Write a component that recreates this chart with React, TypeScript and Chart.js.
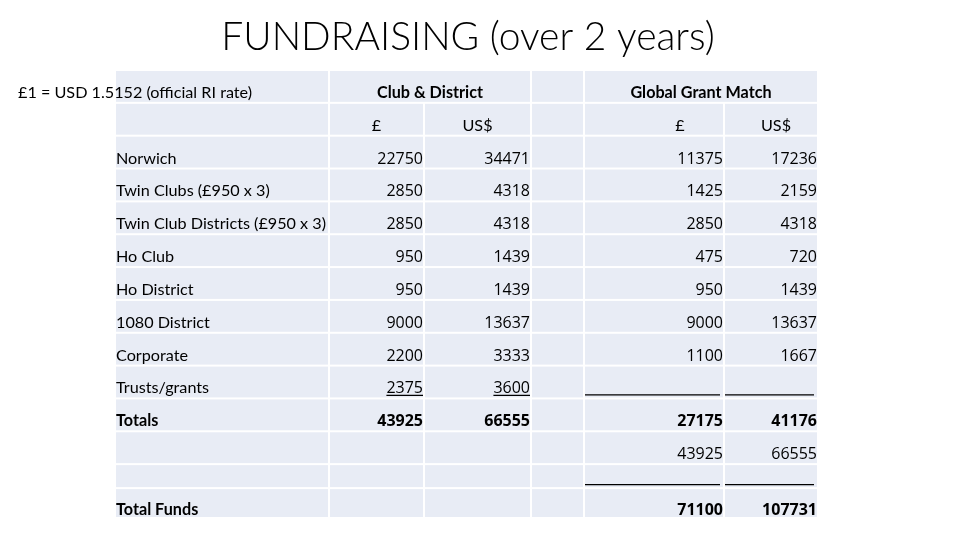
import { useEffect, useRef } from "react";
import { Chart, registerables } from "chart.js";

Chart.register(...registerables);

// ---------- data ----------
const titleText = "FUNDRAISING (over 2 years)";
const rateNote = "£1 = USD 1.5152 (official RI rate)";
const groupHeaders = ["Club & District", "Global Grant Match"];
const currencyHeaders = ["£", "US$", "£", "US$"];
const sourceLabels = [
  "Norwich",
  "Twin Clubs (£950 x 3)",
  "Twin Club Districts (£950 x 3)",
  "Ho Club",
  "Ho District",
  "1080 District",
  "Corporate",
  "Trusts/grants",
];
const clubGBP = [22750, 2850, 2850, 950, 950, 9000, 2200, 2375];
const clubUSD = [34471, 4318, 4318, 1439, 1439, 13637, 3333, 3600];
const grantGBP = [11375, 1425, 2850, 475, 950, 9000, 1100];
const grantUSD = [17236, 2159, 4318, 720, 1439, 13637, 1667];
const totalsLabel = "Totals";
const clubTotals = [43925, 66555];
const grantTotals = [27175, 41176];
const carriedClubTotals = [43925, 66555];
const totalFundsLabel = "Total Funds";
const totalFunds = [71100, 107731];

// ---------- layout (table geometry in scale units) ----------
const COL_EDGES = [116, 330, 425, 532, 585, 725, 819];
const ROW_SPANS = [1, 1, 1, 1, 1, 1, 1, 1, 1, 1, 1, 1, 0.73, 0.91];
const GAP = 2;
const CELL_FILL = "#E8ECF5";
const TEXT_FONT = "Lato, 'Open Sans', sans-serif";
const NUM_FONT = "'Open Sans', Lato, sans-serif";
const TEXT_SIZE = 16.2;
const NUM_SIZE = 16;
const FIRST_SOURCE_ROW = 2;
const TOTALS_ROW = 10;
const CARRIED_ROW = 11;
const RULE_ROWS = [9, 12];
const TOTAL_FUNDS_ROW = 13;
const SUBHEADER_SHIFT = [0, 0, 26, 5];

const rowTop = (r: number) => ROW_SPANS.slice(0, r).reduce((a, b) => a + b, 0);
const rowBottom = (r: number) => rowTop(r) + ROW_SPANS[r];
const cellRight = (c: number) => COL_EDGES[c + 1] - GAP;
const cellCenter = (c: number) => (COL_EDGES[c] + COL_EDGES[c + 1] - GAP) / 2;
const Y_MAX = rowTop(ROW_SPANS.length);

type TextPoint = { x: number; y: number; row: number; text: string; underline?: boolean };

function numberColumn(values: number[], col: number, firstRow: number, underlineRows: number[] = []): TextPoint[] {
  return values.map((v, i) => ({
    x: cellRight(col),
    y: rowBottom(firstRow + i),
    row: firstRow + i,
    text: String(v),
    underline: underlineRows.includes(firstRow + i),
  }));
}

function textDataset(label: string, data: TextPoint[], align: string, bold: boolean, numeric = false) {
  return {
    type: "scatter" as const,
    label,
    data,
    align,
    bold,
    numeric,
    pointRadius: 0,
    pointHoverRadius: 0,
    showLine: false,
  };
}

function rowCells(r: number): [number, number][] {
  if (r === 0) return [[0, 1], [1, 3], [3, 4], [4, 6]];
  return [[0, 1], [1, 2], [2, 3], [3, 4], [4, 5], [5, 6]];
}

const tablePlugin = {
  id: "fundTable",
  beforeDatasetsDraw(chart: any) {
    const { ctx } = chart;
    const xs = chart.scales.x;
    const ys = chart.scales.y;
    ctx.save();
    ctx.fillStyle = CELL_FILL;
    for (let r = 0; r < ROW_SPANS.length; r++) {
      const top = ys.getPixelForValue(rowTop(r));
      const bottom = ys.getPixelForValue(rowBottom(r)) - GAP;
      for (const [c0, c1] of rowCells(r)) {
        const left = xs.getPixelForValue(COL_EDGES[c0]);
        const right = xs.getPixelForValue(COL_EDGES[c1]) - GAP;
        ctx.fillRect(left, top, right - left, bottom - top);
      }
    }
    // rules under the grant columns
    ctx.strokeStyle = "#000";
    ctx.lineWidth = 1.3;
    for (const r of RULE_ROWS) {
      const yy = ys.getPixelForValue(rowBottom(r)) - GAP - 2.5;
      for (const c of [4, 5]) {
        ctx.beginPath();
        ctx.moveTo(xs.getPixelForValue(COL_EDGES[c]), yy);
        ctx.lineTo(xs.getPixelForValue(cellRight(c)) - 3, yy);
        ctx.stroke();
      }
    }
    ctx.restore();
  },
  afterDatasetsDraw(chart: any) {
    const { ctx } = chart;
    ctx.save();
    ctx.fillStyle = "#000";
    ctx.strokeStyle = "#000";
    ctx.textBaseline = "alphabetic";
    chart.data.datasets.forEach((ds: any, i: number) => {
      const meta = chart.getDatasetMeta(i);
      const size = ds.numeric ? NUM_SIZE : TEXT_SIZE;
      const family = ds.numeric ? NUM_FONT : TEXT_FONT;
      ctx.font = `${ds.bold ? "bold " : ""}${size}px ${family}`;
      ctx.textAlign = ds.align;
      ds.data.forEach((p: TextPoint, j: number) => {
        const el = meta.data[j];
        if (!el) return;
        const inset = p.row === TOTAL_FUNDS_ROW ? 2 : 4;
        const bx = el.x;
        const by = el.y - GAP - inset;
        ctx.fillText(p.text, bx, by);
        if (p.underline) {
          const w = ctx.measureText(p.text).width;
          const x0 = ds.align === "right" ? bx - w : ds.align === "center" ? bx - w / 2 : bx;
          ctx.lineWidth = 1.2;
          ctx.beginPath();
          ctx.moveTo(x0, by + 2);
          ctx.lineTo(x0 + w, by + 2);
          ctx.stroke();
        }
      });
    });
    ctx.restore();
  },
};

export default function App() {
  const ref = useRef<HTMLCanvasElement | null>(null);

  useEffect(() => {
    if (!ref.current) return;

    const rowLabelPoints: TextPoint[] = sourceLabels.map((t, i) => ({
      x: COL_EDGES[0],
      y: rowBottom(FIRST_SOURCE_ROW + i),
      row: FIRST_SOURCE_ROW + i,
      text: t,
    }));
    const boldLabelPoints: TextPoint[] = [
      { x: COL_EDGES[0], y: rowBottom(TOTALS_ROW), row: TOTALS_ROW, text: totalsLabel },
      { x: COL_EDGES[0], y: rowBottom(TOTAL_FUNDS_ROW), row: TOTAL_FUNDS_ROW, text: totalFundsLabel },
    ];
    const notePoints: TextPoint[] = [{ x: 18, y: rowBottom(0), row: 0, text: rateNote }];
    const groupPoints: TextPoint[] = [
      { x: (COL_EDGES[1] + COL_EDGES[3] - GAP) / 2, y: rowBottom(0), row: 0, text: groupHeaders[0] },
      { x: (COL_EDGES[4] + COL_EDGES[6] - GAP) / 2, y: rowBottom(0), row: 0, text: groupHeaders[1] },
    ];
    const currencyCols = [1, 2, 4, 5];
    const currencyPoints: TextPoint[] = currencyHeaders.map((t, i) => ({
      x: cellCenter(currencyCols[i]) + SUBHEADER_SHIFT[i],
      y: rowBottom(1),
      row: 1,
      text: t,
    }));

    const datasets: any[] = [
      textDataset("Rate", notePoints, "left", false),
      textDataset("Group headers", groupPoints, "center", true),
      textDataset("Currency headers", currencyPoints, "center", false),
      textDataset("Sources", rowLabelPoints, "left", false),
      textDataset("Total labels", boldLabelPoints, "left", true),
      textDataset("Club £", numberColumn(clubGBP, 1, FIRST_SOURCE_ROW, [9]), "right", false, true),
      textDataset("Club US$", numberColumn(clubUSD, 2, FIRST_SOURCE_ROW, [9]), "right", false, true),
      textDataset("Grant £", numberColumn(grantGBP, 4, FIRST_SOURCE_ROW), "right", false, true),
      textDataset("Grant US$", numberColumn(grantUSD, 5, FIRST_SOURCE_ROW), "right", false, true),
      textDataset(
        "Totals",
        [
          ...numberColumn([clubTotals[0]], 1, TOTALS_ROW),
          ...numberColumn([clubTotals[1]], 2, TOTALS_ROW),
          ...numberColumn([grantTotals[0]], 4, TOTALS_ROW),
          ...numberColumn([grantTotals[1]], 5, TOTALS_ROW),
          ...numberColumn([totalFunds[0]], 4, TOTAL_FUNDS_ROW),
          ...numberColumn([totalFunds[1]], 5, TOTAL_FUNDS_ROW),
        ],
        "right",
        true,
        true
      ),
      textDataset(
        "Carried",
        [
          ...numberColumn([carriedClubTotals[0]], 4, CARRIED_ROW),
          ...numberColumn([carriedClubTotals[1]], 5, CARRIED_ROW),
        ],
        "right",
        false,
        true
      ),
    ];

    const chart = new Chart(ref.current, {
      type: "scatter",
      data: { datasets },
      options: {
        responsive: false,
        animation: false,
        devicePixelRatio: 1,
        layout: { padding: { left: 0, right: 24, top: 0, bottom: 21 } },
        events: [],
        scales: {
          x: { type: "linear", min: 0, max: 936, display: false },
          y: { type: "linear", min: 0, max: Y_MAX, reverse: true, display: false },
        },
        plugins: {
          legend: { display: false },
          tooltip: { enabled: false },
          title: {
            display: true,
            text: titleText,
            color: "#000",
            font: { family: TEXT_FONT, size: 39, weight: "300" as any, lineHeight: 1.2 },
            padding: { top: 13.6, bottom: 10.6 },
          },
        },
      } as any,
      plugins: [tablePlugin],
    });
    return () => chart.destroy();
  }, []);

  return (
    <div style={{ position: "fixed", left: 0, top: 0, width: 960, height: 540, background: "#fff" }}>
      <canvas ref={ref} width={960} height={540} style={{ width: 960, height: 540 }} />
    </div>
  );
}
